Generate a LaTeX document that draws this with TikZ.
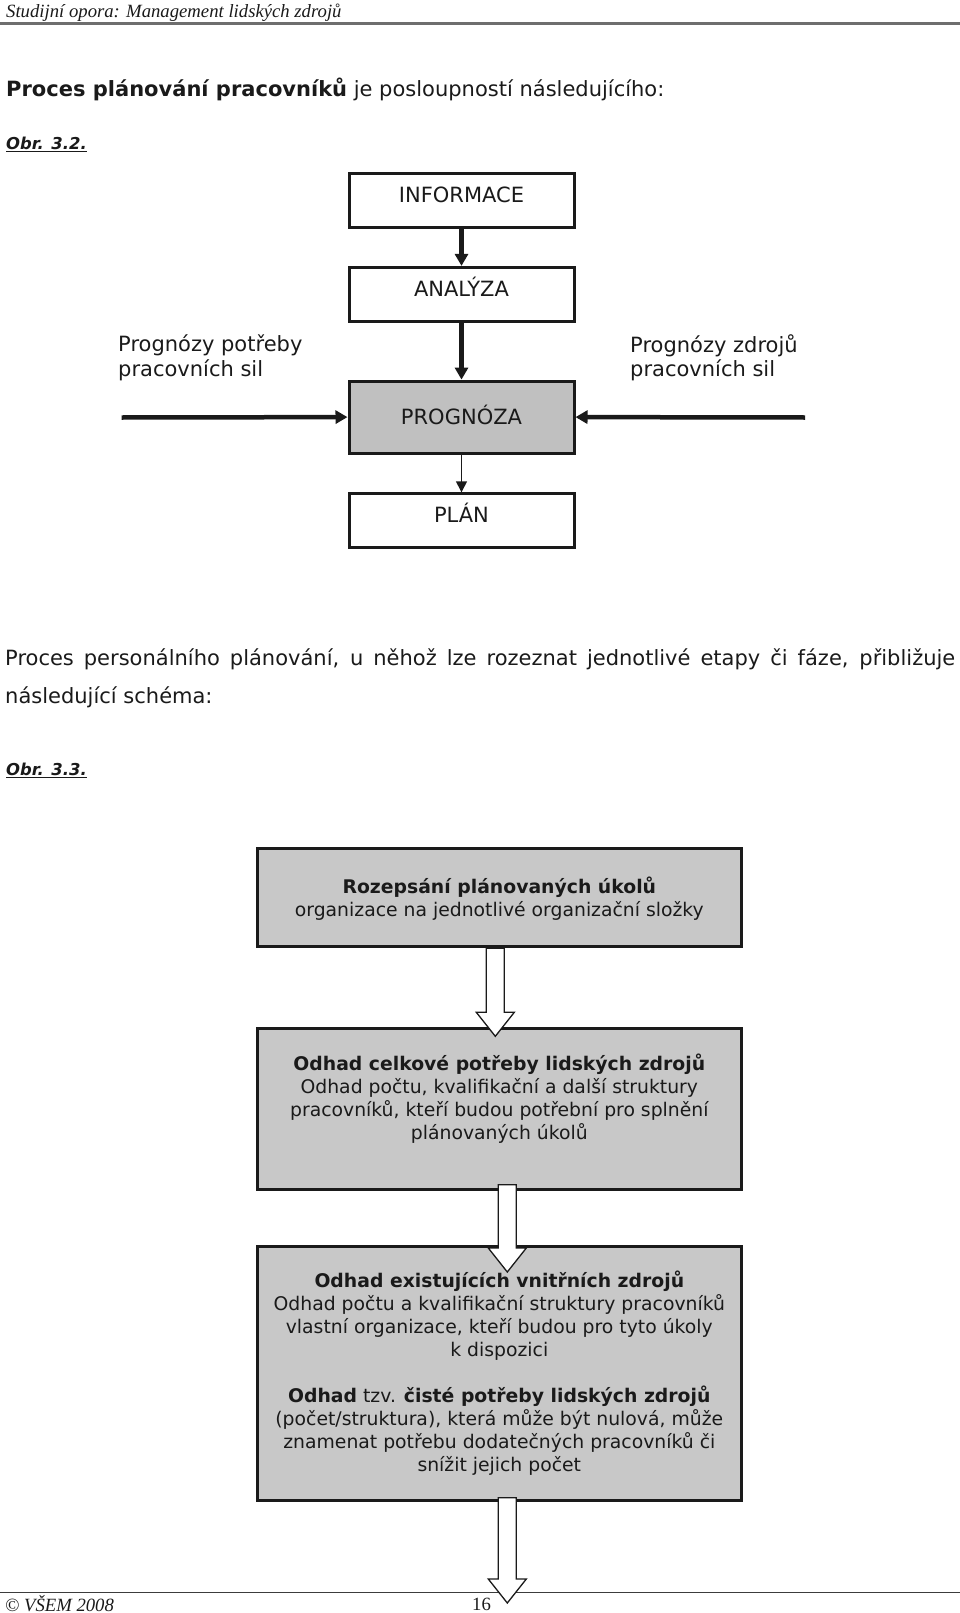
\documentclass[tikz,border=0pt]{standalone}
\usepackage{fontspec}
\setmainfont{DejaVu Sans}
\newfontfamily\pagefont{Liberation Serif}
\usetikzlibrary{arrows.meta,positioning,calc}

\definecolor{ink}{HTML}{1A1A1A}
\definecolor{boxgray}{HTML}{C0C0C0}
\definecolor{phasegray}{HTML}{C8C8C8}
\definecolor{rulegray}{HTML}{6E6E6E}

\tikzset{
  stage/.style={draw=ink, line width=3pt, minimum width=225pt, minimum height=54pt,
    inner sep=0pt, text=ink, font=\fontsize{21}{25}\selectfont,
    text height=15.5pt, text depth=12pt},
  forecast/.style={stage, fill=boxgray, minimum height=72pt, text depth=0pt},
  flow/.style={draw=ink, line width=4.5pt, -{Triangle[length=12pt,width=13pt]}},
  thinflow/.style={draw=ink, line width=1.4pt, -{Triangle[length=11pt,width=11pt]}},
  side/.style={align=left, anchor=west, inner sep=0pt, text=ink, font=\fontsize{21}{24.5}\selectfont},
  phase/.style={draw=ink, line width=3pt, fill=phasegray, minimum width=484pt, inner sep=0pt},
  phasetext/.style={align=center, inner sep=0pt, text=ink, font=\fontsize{18.8}{23}\selectfont},
  hollow/.style={draw=ink, line width=1.3pt, fill=white, line join=miter},
  body/.style={anchor=base west, inner sep=0pt, text=ink, font=\fontsize{21}{25}\selectfont},
  caption/.style={anchor=base west, inner sep=0pt, text=ink, font=\fontsize{16.4}{19}\selectfont\bfseries\itshape},
  pagetext/.style={anchor=base west, inner sep=0pt, text=ink, font=\pagefont\fontsize{18.7}{20}\selectfont},
}

% hollow block arrow from tail coordinate #1 down to tip coordinate #2
\newcommand{\hollowarrow}[2]{%
  \filldraw[hollow] let \p1=(#1), \p2=(#2) in
    (\x1-9pt,\y1) -- (\x1+9pt,\y1) -- (\x1+9pt,\y2+24pt) -- (\x1+19pt,\y2+24pt)
    -- (\x1,\y2) -- (\x1-19pt,\y2+24pt) -- (\x1-9pt,\y2+24pt) -- cycle;
}

\begin{document}
\begin{tikzpicture}[x=1pt,y=-1pt]
  \useasboundingbox (0,0) rectangle (960,1613);

  % page head
  \node[pagetext] (head) at (6,17.3) {\itshape Studijní opora: Management lidských zdrojů};
  \draw[rulegray, line width=2.5pt] (0,23.3) -- (960,23.3);

  \node[body] (intro) at (6,96.5) {\textbf{Proces plánování pracovníků} je posloupností následujícího:};
  \node[caption] (fig1) at (6,150) {\underline{Obr. 3.2.}};

  % Obr. 3.2
  \node[stage] (info) at (461.5,200.4) {INFORMACE};
  \node[stage, below=37pt of info] (analyza) {ANALÝZA};
  \node[forecast, below=56.7pt of analyza] (prognoza) {PROGNÓZA};
  \node[stage, below=37.7pt of prognoza] (plan) {PLÁN};

  \node[side] (needlbl) at (118,358) {Prognózy potřeby\\pracovních sil};
  \node[side] (supplylbl) at (630,358) {Prognózy zdrojů\\pracovních sil};

  \coordinate (needin) at (121.7,417.5);
  \coordinate (supplyin) at (805,417.5);

  \draw[flow] (info) -- (analyza);
  \draw[flow] (analyza) -- (prognoza);
  \draw[thinflow] (prognoza) -- (plan);
  \draw[flow] (needin) -- (prognoza.west);
  \draw[flow] (supplyin) -- (prognoza.east);

  \node[body] (par1) at (5,665.7) {\makebox[950pt][s]{Proces personálního plánování, u něhož lze rozeznat jednotlivé etapy či fáze, přibližuje}};
  \node[body] (par2) at (5,703.3) {následující schéma:};
  \node[caption] (fig2) at (6,775.7) {\underline{Obr. 3.3.}};

  % Obr. 3.3
  \node[phase, minimum height=98pt] (task) at (499.3,897.8) {};
  \node[phase, minimum height=160.4pt, below=79pt of task] (need) {};
  \node[phase, minimum height=253.7pt, below=54.3pt of need] (internal) {};

  \node[phasetext] (tasktxt) at ([yshift=-1pt]task.center) {\textbf{Rozepsání plánovaných úkolů}\\organizace na jednotlivé organizační složky};
  \node[phasetext] (needtxt) at ([yshift=10pt]need.center) {\textbf{Odhad celkové potřeby lidských zdrojů}\\Odhad počtu, kvalifikační a další struktury\\pracovníků, kteří budou potřební pro splnění\\plánovaných úkolů};
  \node[phasetext] (internaltxt) at (internal.center) {\textbf{Odhad existujících vnitřních zdrojů}\\Odhad počtu a kvalifikační struktury pracovníků\\vlastní organizace, kteří budou pro tyto úkoly\\k dispozici\\[23pt]\textbf{Odhad} tzv. \textbf{čisté potřeby lidských zdrojů}\\(počet/struktura), která může být nulová, může\\znamenat potřebu dodatečných pracovníků či\\snížit jejich počet};

  % page foot
  \draw[ink!85, line width=1.5pt] (0,1592.3) -- (960,1592.3);
  \node[pagetext] (foot) at (5,1611) {\itshape © VŠEM 2008};
  \node[pagetext] (pageno) at (472,1610) {16};

  \coordinate (a1) at ([xshift=-4pt]task.south);
  \coordinate (b1) at ([xshift=-4pt,yshift=-9pt]need.north);
  \coordinate (a2) at ([xshift=8pt,yshift=6pt]need.south);
  \coordinate (b2) at ([xshift=8pt,yshift=-27pt]internal.north);
  \coordinate (a3) at ([xshift=8pt,yshift=4pt]internal.south);
  \coordinate (b3) at (507.3,1603);

  \hollowarrow{a1}{b1}
  \hollowarrow{a2}{b2}
  \hollowarrow{a3}{b3}
\end{tikzpicture}
\end{document}
